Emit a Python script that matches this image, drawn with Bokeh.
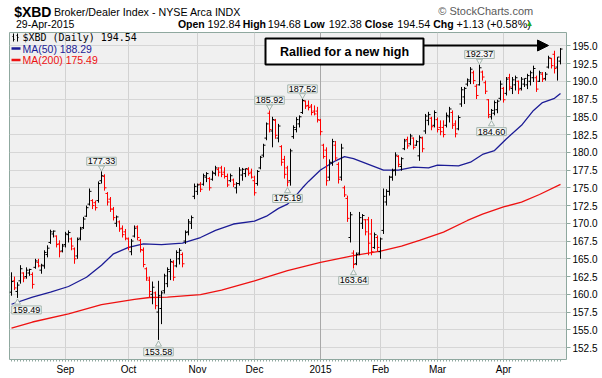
from bokeh.plotting import figure
from bokeh.layouts import column
from bokeh.models import (ColumnDataSource, FixedTicker, Label, BoxAnnotation, Arrow,
                          NormalHead, Span, Range1d, NumeralTickFormatter)
from bokeh.embed import file_html
from bokeh.resources import INLINE

# ---------------- data ----------------
high = [163.1, 162.5, 161.7, 164.1, 163.1, 163.8, 163.6, 163.1, 165.0, 165.0,
        164.3, 166.2, 166.9, 169.1, 169.0, 168.3, 167.6, 167.1, 168.8, 169.0,
        168.0, 166.6, 168.0, 169.5, 170.9, 172.5, 174.9, 173.4, 173.2, 175.9,
        177.33, 176.9, 174.4, 173.7, 172.3, 171.1, 170.4, 169.7, 169.2, 168.0,
        167.8, 169.7, 169.7, 167.8, 166.6, 163.8, 162.5, 161.8, 160.4, 161.9,
        160.5, 162.9, 163.8, 165.0, 164.8, 166.2, 166.5, 165.9, 169.0, 170.6,
        171.1, 175.6, 175.6, 175.8, 177.0, 177.2, 176.5, 177.4, 178.1, 177.9,
        178.1, 177.9, 177.0, 177.0, 176.3, 175.8, 177.9, 177.8, 177.7, 177.9,
        177.7, 176.7, 177.5, 179.5, 181.2, 184.2, 185.92, 185.0, 184.7, 184.0,
        181.0, 179.5, 178.1, 180.5, 183.8, 184.95, 185.2, 187.52, 187.3, 187.3,
        186.8, 186.6, 186.4, 184.7, 181.2, 180.7, 179.0, 181.9, 181.6, 178.6,
        181.2, 175.3, 173.9, 171.6, 166.2, 165.9, 171.6, 171.3, 170.6, 170.9,
        170.6, 168.7, 168.3, 168.0, 174.9, 174.8, 176.7, 177.7, 180.0, 179.6,
        179.3, 181.9, 182.2, 182.6, 182.1, 181.7, 182.4, 182.2, 185.4, 185.7,
        185.0, 185.9, 184.9, 184.5, 184.5, 185.6, 186.4, 185.9, 184.5, 185.2,
        189.2, 189.2, 190.4, 192.0, 191.5, 189.6, 192.37, 191.5, 190.1, 187.5,
        186.1, 187.3, 187.4, 190.1, 189.2, 190.6, 191.05, 190.6, 190.8, 190.1,
        190.6, 190.4, 191.05, 191.5, 192.2, 190.8, 191.5, 191.3, 191.3, 193.6,
        193.3, 194.3, 193.4, 194.68]
low = [159.8, 160.6, 159.49, 161.5, 161.7, 162.2, 162.6, 160.8, 163.6, 163.8,
       162.9, 163.6, 165.2, 167.1, 168.0, 166.6, 165.2, 165.9, 166.6, 167.3,
       166.2, 164.3, 165.0, 167.6, 169.2, 170.9, 172.5, 172.0, 171.8, 172.9,
       175.6, 174.6, 172.5, 171.6, 170.4, 169.5, 168.8, 168.0, 167.6, 166.2,
       165.5, 168.0, 167.6, 165.9, 163.8, 161.9, 159.6, 158.6, 157.9, 153.58,
       155.8, 160.1, 161.0, 162.0, 161.9, 163.8, 164.2, 163.8, 167.1, 168.3,
       169.2, 173.4, 174.0, 174.4, 175.3, 175.8, 174.6, 176.0, 176.7, 176.6,
       176.5, 176.3, 175.1, 175.8, 175.1, 174.2, 175.3, 176.0, 176.5, 176.7,
       176.3, 173.9, 175.3, 177.6, 179.3, 181.7, 182.8, 180.7, 181.9, 181.4,
       178.1, 176.3, 175.19, 175.3, 181.9, 182.8, 183.5, 185.4, 186.1, 185.9,
       185.2, 185.2, 184.2, 182.4, 179.1, 175.3, 176.0, 178.1, 178.8, 175.6,
       176.0, 173.7, 170.2, 167.3, 163.64, 164.1, 165.5, 169.2, 168.3, 165.5,
       165.5, 166.4, 166.0, 165.0, 168.5, 172.5, 173.9, 176.0, 176.7, 177.9,
       177.4, 180.3, 180.5, 181.0, 180.4, 180.9, 178.8, 180.0, 182.6, 183.8,
       183.1, 183.5, 182.8, 182.4, 182.1, 183.5, 184.2, 183.3, 182.1, 183.1,
       186.4, 186.8, 189.3, 189.6, 189.6, 187.5, 189.4, 190.1, 188.2, 184.8,
       184.60, 185.2, 185.5, 187.3, 187.0, 188.0, 188.7, 188.2, 188.7, 188.2,
       188.7, 189.2, 188.9, 189.4, 189.9, 188.5, 189.9, 189.9, 190.1, 191.8,
       191.8, 191.1, 190.1, 192.38]
open_ = [160.3, 161.9, 160.4, 161.9, 163.0, 162.5, 163.0, 162.8, 163.8, 164.5,
         163.4, 164.0, 165.6, 167.3, 168.5, 168.2, 167.1, 166.1, 167.0, 168.4,
         167.8, 166.4, 165.4, 167.9, 169.4, 171.0, 172.7, 173.2, 172.9, 173.2,
         176.0, 176.6, 174.2, 173.4, 172.0, 170.0, 170.2, 169.3, 168.8, 167.8,
         166.0, 168.2, 169.5, 167.6, 166.2, 163.6, 162.0, 160.0, 160.2, 157.5,
         158.0, 160.5, 161.5, 163.2, 164.5, 164.0, 165.0, 165.6, 167.5, 168.8,
         170.0, 173.8, 174.5, 175.5, 175.5, 176.5, 176.3, 176.2, 177.0, 177.6,
         177.8, 177.2, 176.6, 176.0, 176.1, 175.0, 175.6, 176.8, 177.0, 177.6,
         177.2, 176.0, 175.6, 177.8, 179.6, 182.0, 185.5, 183.0, 184.5, 182.0,
         180.8, 179.0, 177.8, 176.0, 182.2, 183.2, 184.0, 185.6, 187.2, 186.6,
         186.5, 185.8, 185.8, 184.5, 181.0, 180.3, 176.5, 178.5, 181.0, 178.3,
         176.5, 175.0, 173.5, 168.0, 165.8, 164.3, 165.8, 170.0, 170.5, 170.5,
         168.5, 166.6, 168.0, 166.0, 169.0, 173.0, 174.5, 176.5, 177.5, 179.4,
         178.0, 180.5, 181.8, 181.2, 182.0, 181.0, 179.5, 182.0, 183.0, 184.5,
         184.8, 183.8, 184.6, 183.5, 183.5, 183.8, 185.0, 185.6, 184.0, 183.3,
         186.8, 187.8, 189.6, 190.0, 191.2, 189.3, 189.5, 191.3, 189.8, 187.4,
         185.0, 185.5, 186.0, 187.6, 189.0, 188.3, 190.5, 189.0, 189.5, 190.0,
         189.0, 189.6, 189.5, 190.0, 190.5, 190.5, 190.0, 191.0, 190.4, 192.0,
         193.2, 193.8, 192.0, 192.84]
close = [161.8, 160.9, 161.3, 163.6, 162.3, 163.4, 163.5, 161.4, 164.7, 164.0,
         164.1, 165.9, 166.5, 168.8, 168.9, 167.0, 166.0, 166.8, 168.5, 168.7,
         166.8, 165.0, 167.7, 169.2, 170.6, 172.2, 174.5, 172.5, 172.2, 175.6,
         176.7, 175.0, 173.0, 172.0, 170.8, 170.9, 169.2, 168.4, 167.9, 166.6,
         167.5, 169.3, 168.0, 166.3, 164.2, 162.3, 160.4, 161.0, 158.4, 159.8,
         160.2, 162.6, 163.5, 164.6, 162.4, 165.9, 166.2, 164.3, 168.7, 170.2,
         170.8, 175.2, 175.4, 174.8, 176.7, 177.0, 175.0, 177.1, 177.8, 177.2,
         176.9, 176.6, 175.4, 176.7, 175.5, 175.6, 177.5, 177.6, 177.7, 177.0,
         176.5, 174.3, 177.3, 179.3, 181.0, 184.0, 183.2, 184.6, 182.4, 183.7,
         178.6, 176.9, 175.8, 180.2, 183.5, 184.6, 185.0, 187.3, 186.5, 186.3,
         185.6, 185.4, 184.6, 182.9, 179.4, 176.0, 178.6, 181.5, 179.2, 176.2,
         180.6, 174.0, 170.7, 171.2, 164.2, 165.6, 170.8, 171.1, 168.8, 167.2,
         166.0, 168.4, 166.6, 167.8, 173.8, 174.5, 176.5, 177.4, 179.6, 178.3,
         179.1, 181.6, 180.9, 182.3, 180.7, 181.5, 182.1, 180.5, 185.1, 185.3,
         183.6, 185.6, 183.2, 182.9, 182.5, 185.2, 186.1, 183.8, 182.6, 184.9,
         188.8, 189.0, 190.2, 191.7, 190.1, 188.0, 191.9, 190.6, 188.6, 185.3,
         185.9, 187.0, 187.2, 189.6, 187.4, 190.3, 189.2, 190.2, 190.5, 188.8,
         190.3, 190.4, 190.8, 191.2, 191.8, 188.9, 191.2, 190.3, 191.0, 193.3,
         192.2, 191.8, 193.41, 194.54]

ma50_idx = [0, 7, 13, 19, 25, 30, 34, 39, 44, 50, 57, 63, 68, 74, 81, 85, 89, 92, 94,
            97, 99, 103, 108, 111, 114, 119, 124, 129, 134, 139, 142, 149, 153, 157,
            161, 165, 170, 174, 177, 181, 183]
ma50_val = [158.6, 159.6, 160.3, 161.1, 162.4, 164.1, 165.7, 166.6, 167.1, 167.0, 167.2,
            168.0, 169.0, 169.9, 170.3, 171.0, 172.1, 172.7, 173.5, 175.0, 175.9, 177.5,
            178.8, 179.4, 179.1, 178.3, 177.5, 177.5, 177.9, 177.8, 178.2, 178.1, 178.6,
            179.7, 180.25, 181.9, 183.8, 185.9, 187.0, 187.6, 188.29]
ma200_idx = [0, 7, 19, 30, 41, 46, 52, 63, 70, 81, 92, 103, 114, 123, 130, 136, 144,
             152, 157, 164, 170, 176, 183]
ma200_val = [155.25, 156.1, 157.25, 158.56, 159.3, 159.55, 159.6, 159.97, 160.6, 161.9,
             163.35, 164.5, 165.46, 166.07, 166.8, 167.6, 168.75, 170.4, 171.3, 172.3,
             172.98, 174.06, 175.49]

month_idx = [18, 39, 62, 81, 103, 123, 142, 164]
month_lbl = ["Sep", "Oct", "Nov", "Dec", "2015", "Feb", "Mar", "Apr"]
y_ticks = [152.5, 155.0, 157.5, 160.0, 162.5, 165.0, 167.5, 170.0, 172.5, 175.0,
           177.5, 180.0, 182.5, 185.0, 187.5, 190.0, 192.5, 195.0]

note_idx = [2, 30, 49, 86, 92, 97, 114, 156, 160]
note_kind = ["low", "high", "low", "high", "low", "high", "low", "high", "low"]

# ---------------- layout constants ----------------
W = 602
HDR_H = 31
MAIN_H = 347
FL, FR = 9, 566          # frame left/right (px)
FT, FB = 1, 328          # frame top/bottom inside the main figure (px)
X0, X1 = -0.667, 185.0
Y0, Y1 = 150.82, 196.87
PPU = (FB - FT) / (Y1 - Y0)
PPX = (FR - FL) / (X1 - X0)


def xd(px):
    return X0 + (px - FL) / PPX


def yd(py):
    # py is measured from the top of the whole page
    return Y1 - (py - HDR_H - FT) / PPU


FRAME_C = "#8fa89f"
BLUE = "#1c1c96"
RED = "#ee1111"

# ---------------- header strip ----------------
hdr_fig = figure(width=W, height=HDR_H, x_range=Range1d(0, W), y_range=Range1d(HDR_H, 0),
                 output_backend="svg", toolbar_location=None, x_axis_location=None,
                 y_axis_location=None, min_border=0, outline_line_color=None,
                 background_fill_color="white", border_fill_color="white")
hdr_fig.grid.visible = False
hdr_fig.title.visible = False


def hdr(text, xpx, ypx, size, bold=False, color="black", font="Liberation Sans", align="left"):
    hdr_fig.add_layout(Label(x=xpx, y=ypx, text=text, text_align=align,
                             text_baseline="middle", text_font=font, text_font_size=size,
                             text_font_style="bold" if bold else "normal", text_color=color))


hdr("$XBD", 5, 11, "14px", bold=True)
hdr("Broker/Dealer Index - NYSE Arca INDX", 48, 11, "10.7px")
hdr("29-Apr-2015", 7, 23, "10.5px")
hdr("\u00a9 StockCharts.com", 566, 10, "11px", color="#5a5a5a", align="right")
chg = close[-1] - close[-2]
quote = [("Open", True, 182), ("%.2f" % open_[-1], False, 214),
         ("High", True, 252), ("%.2f" % high[-1], False, 279),
         ("Low", True, 318), ("%.2f" % low[-1], False, 345),
         ("Close", True, 384), ("%.2f" % close[-1], False, 419),
         ("Chg", True, 458),
         ("%+.2f (%+.2f%%)" % (chg, 100 * chg / close[-2]), False, 483)]
for t, b, xp in quote:
    hdr(t, xp, 23, "10.5px" if b else "10.8px", bold=b)
hdr("\u25b2", 562, 23, "8px", color="#22aa22", align="center")

# ---------------- main chart ----------------
p = figure(width=W, height=MAIN_H, x_range=Range1d(X0, X1), y_range=Range1d(Y0, Y1),
           output_backend="svg", toolbar_location=None, y_axis_location="right",
           min_border_left=FL, min_border_right=W - FR, min_border_top=FT,
           min_border_bottom=MAIN_H - FB, background_fill_color="#f0f0f0",
           border_fill_color="white", outline_line_color=FRAME_C)
p.title.visible = False

n = len(close)
idx = list(range(n))
xa = p.xaxis[0]
xa.ticker = FixedTicker(ticks=month_idx, minor_ticks=idx)
xa.major_label_overrides = {m: l for m, l in zip(month_idx, month_lbl)}
xa.axis_line_color = None
xa.major_tick_in = 0
xa.major_tick_out = 2
xa.minor_tick_in = 0
xa.minor_tick_out = 2
xa.major_tick_line_color = FRAME_C
xa.minor_tick_line_color = FRAME_C
xa.major_label_standoff = 2
xa.major_label_text_font = "Liberation Sans"
xa.major_label_text_font_size = "10px"
xa.major_label_text_color = "black"

ya = p.yaxis[0]
ya.ticker = FixedTicker(ticks=y_ticks)
ya.formatter = NumeralTickFormatter(format="0.0")
ya.axis_line_color = None
ya.major_tick_in = 0
ya.major_tick_out = 4
ya.minor_tick_line_color = None
ya.major_tick_line_color = FRAME_C
ya.major_label_standoff = 2
ya.major_label_text_font = "Liberation Sans"
ya.major_label_text_font_size = "10px"
ya.major_label_text_color = "black"

p.xgrid.ticker = FixedTicker(ticks=month_idx)
p.ygrid.ticker = FixedTicker(ticks=y_ticks)
p.xgrid.grid_line_color = "#d2d2d2"
p.ygrid.grid_line_color = "#d6d6d6"
year_pos = month_idx[month_lbl.index("2015")]
p.add_layout(Span(location=year_pos, dimension="height", line_color="#a8a8a8",
                  line_width=1, level="underlay"))

# moving averages
p.line(ma200_idx, ma200_val, line_color=RED, line_width=1.3)
p.line(ma50_idx, ma50_val, line_color=BLUE, line_width=1.3)

# OHLC bars
colors = ["#000000"] + ["#ff0000" if close[i] < close[i - 1] else "#000000" for i in range(1, n)]
src = ColumnDataSource(dict(x=idx, h=high, l=low, o=open_, c=close, color=colors,
                            xl=[i - 0.67 for i in idx], xr=[i + 0.67 for i in idx]))
p.segment("x", "l", "x", "h", line_color="color", line_width=1, source=src)
p.segment("xl", "o", "x", "o", line_color="color", line_width=1, source=src)
p.segment("x", "c", "xr", "c", line_color="color", line_width=1, source=src)

# high / low call-outs
tri_x, tri_y, tri_m = [], [], []
for i, k in zip(note_idx, note_kind):
    v = high[i] if k == "high" else low[i]
    off = 10 if k == "high" else -12
    xoff = 9 if i < 4 else 0        # keep the first call-out inside the frame
    p.add_layout(Label(x=i, y=v, text="%.2f" % v, x_offset=xoff, y_offset=off,
                       text_align="center", text_baseline="middle",
                       text_font="Liberation Sans", text_font_size="9px",
                       text_color="black", background_fill_color="#f5f5f5",
                       border_line_color="#a3b5ad", padding=1))
    tri_x.append(i)
    if k == "high":
        tri_y.append(v + 3.5 / PPU)
        tri_m.append("inverted_triangle")
    else:
        tri_y.append(v - 4.5 / PPU)
        tri_m.append("triangle")
p.scatter(tri_x, tri_y, marker=tri_m, size=6, fill_color="#f5f5f5",
          line_color="#a3b5ad", line_width=1)

# "Rallied" annotation
p.add_layout(BoxAnnotation(left=xd(265), right=xd(423), top=yd(38), bottom=yd(64),
                           fill_color="white", fill_alpha=1, line_color="black",
                           line_width=2, line_alpha=1))
p.add_layout(Label(x=xd(344), y=yd(51), text="Rallied for a new high", text_align="center",
                   text_baseline="middle", text_font="Liberation Sans",
                   text_font_style="bold", text_font_size="12.5px", text_color="black"))
p.add_layout(Arrow(end=NormalHead(size=11, fill_color="black", line_color="black"),
                   x_start=xd(423), y_start=yd(45), x_end=xd(548), y_end=yd(45),
                   line_color="black", line_width=2))

# in-chart legend
p.segment(x0=[xd(13), xd(12), xd(13), xd(17), xd(16), xd(17)],
          y0=[yd(33), yd(36), yd(39), yd(33), yd(35), yd(37)],
          x1=[xd(13), xd(13), xd(14), xd(17), xd(17), xd(18)],
          y1=[yd(41), yd(36), yd(39), yd(41), yd(35), yd(37)],
          line_color="black", line_width=1)
p.segment(x0=[xd(11), xd(11)], y0=[yd(48), yd(59.5)], x1=[xd(20), xd(20)],
          y1=[yd(48), yd(59.5)], line_color=[BLUE, RED], line_width=2.5)
p.add_layout(Label(x=xd(22), y=yd(37), text="$XBD (Daily) %.2f" % close[-1],
                   text_baseline="middle", text_font="DejaVu Sans Mono",
                   text_font_size="10px", text_color="black"))
p.add_layout(Label(x=xd(22), y=yd(48), text="MA(50) %.2f" % ma50_val[-1],
                   text_baseline="middle", text_font="Liberation Sans",
                   text_font_size="10.5px", text_color=BLUE))
p.add_layout(Label(x=xd(22), y=yd(59.5), text="MA(200) %.2f" % ma200_val[-1],
                   text_baseline="middle", text_font="Liberation Sans",
                   text_font_size="10.5px", text_color=RED))

layout = column(hdr_fig, p, spacing=0)
open("out.html", "w").write(file_html(layout, INLINE))
